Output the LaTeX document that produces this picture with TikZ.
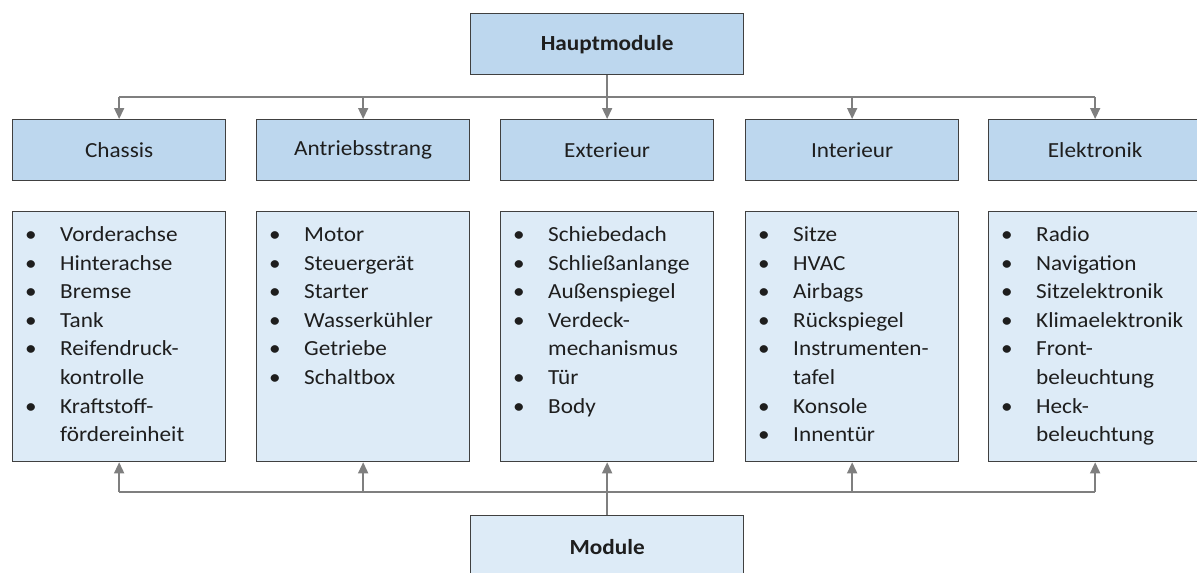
\documentclass[tikz,border=0pt]{standalone}
\usepackage{fontspec}
\setmainfont[FakeStretch=1.08]{Carlito}
\usetikzlibrary{arrows.meta}

\definecolor{headfill}{RGB}{189,215,238}
\definecolor{bodyfill}{RGB}{221,235,247}
\definecolor{edgegray}{RGB}{64,64,64}
\definecolor{wiregray}{RGB}{127,127,127}
\definecolor{ink}{RGB}{30,30,30}

\newcommand\boxfont{\fontsize{21.5}{28.6}\selectfont}

\tikzset{
  box/.style={draw=edgegray, line width=1.3pt, inner sep=0pt, anchor=north west,
    minimum width=213pt, minimum height=61pt, font=\boxfont, text=ink},
  headbox/.style={box, fill=headfill},
  listbox/.style={box, fill=bodyfill, minimum height=250pt},
  rootbox/.style={box, minimum width=273pt, font=\bfseries\boxfont},
  entry/.style={anchor=base west, inner sep=0pt, font=\boxfont, text=ink},
  wire/.style={draw=wiregray, line width=1.5pt},
  feed/.style={wire, -{Triangle[width=10pt,length=11pt]}},
}

% bullet list inside a module box: #1 prefix, #2 left edge, #3 marker/text pairs
\newcommand\modlist[3]{%
  \foreach \itmark/\ittext [count=\i] in {#3} {
    \node[entry] (#1b\i) at ({#2+13},{241.5+28.6*(\i-1)}) {\itmark};
    \node[entry] (#1t\i) at ({#2+48},{241.5+28.6*(\i-1)}) {\ittext};
  }%
}

\begin{document}
\begin{tikzpicture}[x=1pt,y=-1pt]
  \useasboundingbox (0,0) rectangle (1197,573);

  % top and bottom collector boxes
  \node[rootbox, fill=headfill] (haupt) at (470,13) {Hauptmodule};
  \node[rootbox, fill=bodyfill, minimum height=62pt] (module) at (470,515) {Module};

  % category headers
  \node[headbox] (chassis) at (12,119)  {Chassis};
  \node[headbox] (antrieb) at (256,119) {Antriebsstrang};
  \node[headbox] (exter)   at (500,119) {Exterieur};
  \node[headbox] (inter)   at (745,119) {Interieur};
  \node[headbox] (elek)    at (988,119) {Elektronik};

  % module lists
  \node[listbox] (chassisL) at (12,211)  {};
  \node[listbox] (antriebL) at (256,211) {};
  \node[listbox] (exterL)   at (500,211) {};
  \node[listbox] (interL)   at (745,211) {};
  \node[listbox] (elekL)    at (988,211) {};

  \modlist{ch}{12}{•/Vorderachse, •/Hinterachse, •/Bremse, •/Tank,
    •/Reifendruck-, /kontrolle, •/Kraftstoff-, /fördereinheit}
  \modlist{an}{256}{•/Motor, •/Steuergerät, •/Starter, •/Wasserkühler,
    •/Getriebe, •/Schaltbox}
  \modlist{ex}{500}{•/Schiebedach, •/Schließanlange, •/Außenspiegel,
    •/Verdeck-, /mechanismus, •/Tür, •/Body}
  \modlist{in}{745}{•/Sitze, •/HVAC, •/Airbags, •/Rückspiegel,
    •/Instrumenten-, /tafel, •/Konsole, •/Innentür}
  \modlist{el}{988}{•/Radio, •/Navigation, •/Sitzelektronik,
    •/Klimaelektronik, •/Front-, /beleuchtung, •/Heck-, /beleuchtung}

  % distribution from the top box
  \coordinate (upbus) at (0,97);
  \draw[wire] (chassis.north |- upbus) -- (elek.north |- upbus);
  \draw[feed] (haupt.south) -- (exter.north);
  \foreach \n in {chassis,antrieb,inter,elek}
    \draw[feed] (\n.north |- upbus) -- (\n.north);

  % collection from the bottom box
  \coordinate (lowbus) at (0,492);
  \draw[wire] (chassisL.south |- lowbus) -- (elekL.south |- lowbus);
  \draw[feed] (module.north) -- (exterL.south);
  \foreach \n in {chassisL,antriebL,interL,elekL}
    \draw[feed] (\n.south |- lowbus) -- (\n.south);
\end{tikzpicture}
\end{document}
